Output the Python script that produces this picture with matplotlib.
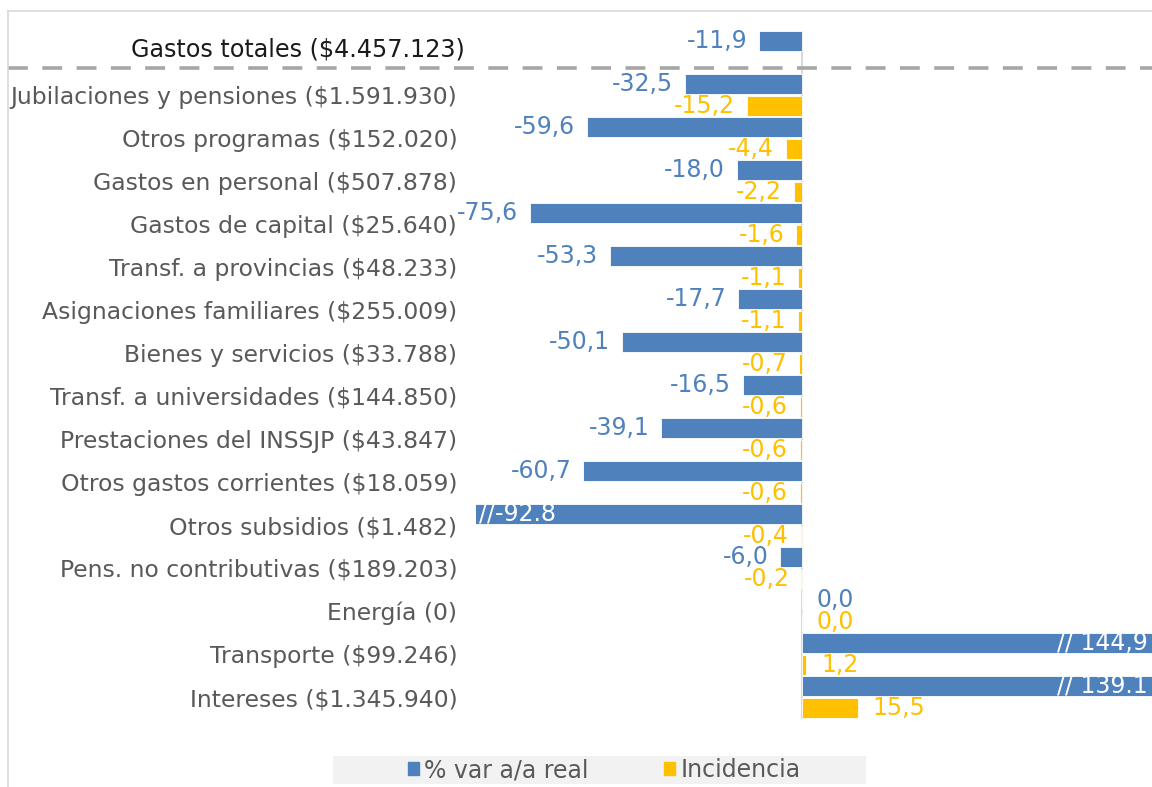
import matplotlib
matplotlib.use("Agg")
import matplotlib.pyplot as plt
import matplotlib.lines as mlines
import matplotlib.patches as mpatches
import numpy as np

categories = [
    "Gastos totales ($4.457.123)",
    "Jubilaciones y pensiones ($1.591.930)",
    "Otros programas ($152.020)",
    "Gastos en personal ($507.878)",
    "Gastos de capital ($25.640)",
    "Transf. a provincias ($48.233)",
    "Asignaciones familiares ($255.009)",
    "Bienes y servicios ($33.788)",
    "Transf. a universidades ($144.850)",
    "Prestaciones del INSSJP ($43.847)",
    "Otros gastos corrientes ($18.059)",
    "Otros subsidios ($1.482)",
    "Pens. no contributivas ($189.203)",
    "Energía (0)",
    "Transporte ($99.246)",
    "Intereses ($1.345.940)",
]
var_real = [-11.9, -32.5, -59.6, -18.0, -75.6, -53.3, -17.7, -50.1, -16.5,
            -39.1, -60.7, -92.8, -6.0, 0.0, 144.9, 139.1]
incidencia = [np.nan, -15.2, -4.4, -2.2, -1.6, -1.1, -1.1, -0.7, -0.6,
              -0.6, -0.6, -0.4, -0.2, 0.0, 1.2, 15.5]
# labels for bars that are cut off by the axis
special_labels = {11: "//-92.8", 14: "// 144,9", 15: "// 139.1"}

BLUE = "#4F81BD"
YELLOW = "#FFC000"
TXT = "#595959"

plt.rcParams['font.family'] = ['DejaVu Sans']

W, H = 1152, 787
fig = plt.figure(figsize=(W / 100, H / 100), dpi=100)
# axes: x from 476px to 1152px, y from 30.5px to 718.5px
ax = fig.add_axes([476 / W, 1 - 718.5 / H, 1 - 476 / W, (718.5 - 30.5) / H])

n = len(categories)
y = np.arange(n)
off = 0.256
h = 0.47
ax.barh(y - off, var_real, height=h, color=BLUE, edgecolor="white", linewidth=0.6)
ax.barh(y + off, incidencia, height=h, color=YELLOW, edgecolor="white", linewidth=0.6)

ax.set_xlim(-(802 - 476) / 3.6, (1152 - 802) / 3.6)
ax.set_ylim(n - 0.5, -0.5)
for s in ax.spines.values():
    s.set_visible(False)
ax.set_xticks([])
ax.set_yticks(y)
ax.set_yticklabels([""] + categories[1:])
ax.tick_params(axis='y', length=0, pad=13.5, labelsize=16.9, labelcolor=TXT)
ax.axvline(0, color="#D9D9D9", lw=1.5, zorder=0)

# total row label (darker, slightly larger)
fig.text(465 / W, 1 - 49 / H, categories[0], ha="right", va="center",
         fontsize=17.2, color="#1a1a1a", fontweight="medium")

def fmt(v):
    return f"{v:.1f}".replace(".", ",")

fs = 17
for i, v in enumerate(var_real):
    if i in special_labels:
        if v < 0:
            ax.text(0.004, i - off, special_labels[i], transform=ax.get_yaxis_transform(),
                    color="white", fontsize=fs, va="center", ha="left", clip_on=True)
        else:
            ax.text(0.994, i - off, special_labels[i], transform=ax.get_yaxis_transform(),
                    color="white", fontsize=fs, va="center", ha="right", clip_on=True)
        continue
    if v < 0:
        ax.annotate(fmt(v), (v, i - off), xytext=(-12, 0), textcoords="offset pixels",
                    ha="right", va="center", color=BLUE, fontsize=fs, annotation_clip=False)
    else:
        ax.annotate(fmt(v), (v, i - off), xytext=(15, 0), textcoords="offset pixels",
                    ha="left", va="center", color=BLUE, fontsize=fs, annotation_clip=False)
for i, v in enumerate(incidencia):
    if np.isnan(v):
        continue
    if v < 0:
        ax.annotate(fmt(v), (v, i + off), xytext=(-12, 0), textcoords="offset pixels",
                    ha="right", va="center", color=YELLOW, fontsize=fs, annotation_clip=False)
    else:
        ax.annotate(fmt(v), (v, i + off), xytext=(15, 0), textcoords="offset pixels",
                    ha="left", va="center", color=YELLOW, fontsize=fs, annotation_clip=False)

# dashed separator between total and items
fig.add_artist(mlines.Line2D([8 / W, 1], [1 - 68 / H, 1 - 68 / H], color="#A6A6A6",
                             lw=2.6, dashes=(5.5, 4)))
# chart border (top and left)
fig.add_artist(mlines.Line2D([8 / W, 1], [1 - 11 / H, 1 - 11 / H], color="#D9D9D9", lw=1.2))
fig.add_artist(mlines.Line2D([8 / W, 8 / W], [0, 1 - 11 / H], color="#D9D9D9", lw=1.2))

# legend
fig.add_artist(mpatches.Rectangle((333 / W, 1 - 784 / H), (866 - 333) / W, 28 / H,
                                  color="#F2F2F2", lw=0))
handles = [mpatches.Patch(color=BLUE, label="% var a/a real"),
           mpatches.Patch(color=YELLOW, label="Incidencia")]
fig.legend(handles=handles, loc="center", bbox_to_anchor=(604 / W, 1 - 770 / H), ncol=2,
           frameon=False, fontsize=17, labelcolor=TXT, handlelength=0.47, handleheight=0.47,
           handletextpad=0.22, columnspacing=3.2, borderpad=0)

fig.savefig("out.png", dpi=100)
